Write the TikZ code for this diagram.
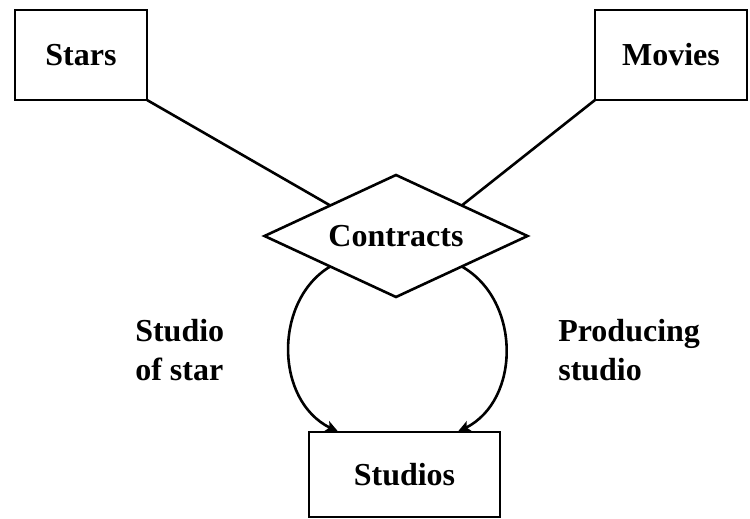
\documentclass[tikz,border=0pt]{standalone}
\usepackage{fontspec}
\setmainfont{Liberation Serif}
\usetikzlibrary{shapes.geometric,arrows.meta}
\begin{document}
\begin{tikzpicture}[x=1pt,y=-1pt,
  line width=2.6pt,
  every node/.style={font=\fontsize{32}{39}\selectfont\bfseries},
  entity/.style={draw,rectangle,inner sep=0pt,outer sep=0pt},
  relation/.style={draw,diamond,inner sep=0pt,outer sep=0pt,shape aspect=2.16,
    minimum width=263pt,minimum height=122pt},
  role/.style={align=left,anchor=west,inner sep=0pt},
  arrowtip/.style={-{Stealth[length=13pt,width=11pt,inset=3pt]}}]
  \useasboundingbox (0,0) rectangle (750,519);

  % entity sets
  \node[entity,minimum width=132pt,minimum height=90pt] (stars) at (81,55) {Stars};
  \node[entity,minimum width=152pt,minimum height=90pt] (movies) at (671,55) {Movies};
  \node[entity,minimum width=191pt,minimum height=85pt] (studios) at (404.5,474.5) {Studios};

  % relationship
  \node[relation] (contracts) at (396,236) {Contracts};

  % participation lines
  \draw (stars.south east) -- (contracts.north west);
  \draw (movies.south west) -- (contracts.north east);

  % the two roles of Studios
  \draw[arrowtip] (contracts.south west)
    .. controls (274,300) and (274,400) .. ([xshift=-66pt]studios.north);
  \draw[arrowtip] (contracts.south east)
    .. controls (521,300) and (521,400) .. ([xshift=53pt]studios.north);

  \node[role] (lstar) at (134,350) {Studio\\of star};
  \node[role] (lprod) at (557,350) {Producing\\studio};
\end{tikzpicture}
\end{document}
